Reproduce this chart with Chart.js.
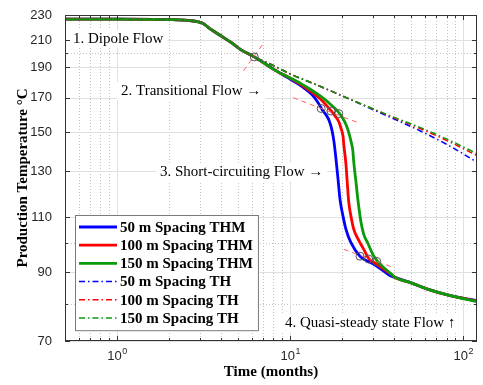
<!DOCTYPE html>
<html>
<head>
<meta charset="utf-8">
<script src="https://cdn.jsdelivr.net/npm/chart.js@4.4.1/dist/chart.umd.min.js"></script>
<style>
  body { margin: 0; background: #fff; }
  canvas { display: block; }
</style>
</head>
<body>
<canvas id="tempChart" width="483" height="385"></canvas>
<script>
// axis ticks
const xTicks = [1, 10, 100];
const xTickExp = ['0', '1', '2'];
const xMinor = [0.6, 0.7, 0.8, 0.9, 2, 3, 4, 5, 6, 7, 8, 9, 20, 30, 40, 50, 60, 70, 80, 90];
const yTicks = [70, 90, 110, 130, 150, 170, 190, 210, 230];
const yMinor = [80, 100, 200];

// THM curves (time in months, temperature in degC)
const thm50Time = [0.5, 1, 2, 2.7, 3.1, 3.5, 4.0, 4.6, 5.2, 6.2, 7.3, 8.5, 9.7, 10.6, 12.0, 13.4, 14.5, 15.3, 16.1, 16.8, 17.4, 17.9, 18.4, 18.9, 19.4, 20.2, 21.0, 22.4, 25.3, 30.4, 34.7, 38.1, 40.6, 49.6, 62.1, 84.2, 120];
const thm50Temp = [226.5, 226.5, 226.2, 225.2, 223.3, 218, 213, 207.7, 202.5, 197.4, 191.8, 186.9, 182.9, 180.3, 176.3, 171.9, 167.0, 162.8, 159.8, 156.4, 151.4, 144.9, 135.7, 126.2, 117.3, 110.3, 105.2, 100.3, 95.4, 92.6, 90.3, 88.7, 88.2, 86.6, 84.6, 82.6, 81.1];

const thm100Time = [0.5, 1, 2, 2.7, 3.1, 3.5, 4.0, 4.6, 5.2, 6.2, 7.3, 8.5, 9.7, 11.6, 13.2, 15.1, 17.2, 18.1, 19.1, 19.6, 20.2, 20.4, 21.0, 21.3, 21.8, 22.4, 23.3, 24.9, 26.6, 28.4, 30.4, 38.1, 40.6, 49.6, 62.1, 84.2, 120];
const thm100Temp = [226.5, 226.5, 226.2, 225.2, 223.3, 218, 213, 207.7, 202.5, 197.4, 191.8, 186.9, 183.5, 178.3, 173.9, 168.8, 162.2, 159.3, 155.8, 152.5, 147.6, 143.3, 133.3, 126.2, 116.1, 110.7, 105.2, 101.1, 97.8, 94.6, 93.3, 89.4, 88.2, 86.6, 84.6, 82.6, 81.0];

const thm150Time = [0.5, 1, 2, 2.7, 3.1, 3.5, 4.0, 4.6, 5.2, 6.2, 7.3, 8.5, 9.7, 11.6, 13.2, 15.1, 17.2, 18.9, 20.2, 21.0, 21.8, 22.4, 23.0, 23.3, 24.0, 24.6, 25.6, 26.6, 28.1, 30.0, 32.0, 38.1, 40.6, 49.6, 62.1, 84.2, 120];
const thm150Temp = [226.5, 226.5, 226.2, 225.2, 223.3, 218, 213, 207.7, 202.5, 197.4, 191.8, 186.9, 183.5, 178.9, 175.1, 170.7, 165.8, 161.6, 157.5, 154.2, 149.7, 145.4, 140.3, 134.3, 124.9, 117.3, 108.3, 103.3, 100.0, 96.0, 93.6, 89.5, 88.2, 86.6, 84.6, 82.6, 80.8];

// TH curves
const thTime = [0.5, 1, 2, 2.7, 3.1, 3.5, 4.0, 4.6, 5.2, 6.2, 7.3, 8.5, 9.7, 15.1, 23.3, 36.6, 56.6, 84.2, 120];
const th50Temp = [226.5, 226.5, 226.2, 225.2, 223.3, 218, 213, 207.7, 202.5, 197.4, 193.5, 189.7, 186.2, 177.0, 168.0, 159.0, 150.6, 142.4, 134.4];
const th100Temp = [226.5, 226.5, 226.2, 225.2, 223.3, 218, 213, 207.7, 202.5, 197.4, 193.5, 189.7, 186.2, 177.0, 168.2, 159.6, 151.9, 144.6, 137.7];
const th150Temp = [226.5, 226.5, 226.2, 225.2, 223.3, 218, 213, 207.7, 202.5, 197.4, 193.5, 189.7, 186.2, 177.0, 168.2, 159.8, 152.5, 145.4, 138.7];

// flow regime markers and tangent lines
const markTime = [6.2, 15.1, 17.2, 19.1, 25.3, 28.4, 31.6];
const markTemp = [197.4, 163.5, 162.0, 160.5, 95.4, 94.4, 93.6];
const tan1Time = [5.37, 7.1], tan1Temp = [187.6, 208.4];
const tan2Time = [10.4, 24.6], tan2Temp = [170.1, 155.3];
const tan3Time = [20.4, 39.1], tan3Temp = [97.8, 91.6];

const notes = [
    { text: '1. Dipole Flow', x: 73, y: 39 },
    { text: '2. Transitional Flow \u2192', x: 121, y: 91 },
    { text: '3. Short-circuiting Flow \u2192', x: 160, y: 172 },
    { text: '4. Quasi-steady state Flow \u2191', x: 285, y: 323 }
];

const BLUE = '#0000ff', RED = '#ff0000', GREEN = '#0a9a0a';

function pts(ts, vs) {
    return ts.map((t, i) => ({ x: t, y: vs[i] }));
}

function curve(label, ts, vs, color, order) {
    return { label: label, data: pts(ts, vs), borderColor: color, borderWidth: 2.8, pointRadius: 0,
        cubicInterpolationMode: 'monotone', order: order, inLegend: true };
}

function dashed(label, ts, vs, color, order) {
    return { label: label, data: pts(ts, vs), borderColor: color, borderWidth: 1.5, pointRadius: 0,
        borderDash: [6, 3, 1.5, 3], cubicInterpolationMode: 'monotone', order: order, inLegend: true };
}

function tangent(ts, vs) {
    return { label: '', data: pts(ts, vs), borderColor: '#ff6262', borderWidth: 1, borderDash: [5, 4],
        pointRadius: 0, order: 0 };
}

const datasets = [
    curve('50 m Spacing THM', thm50Time, thm50Temp, BLUE, 6),
    curve('100 m Spacing THM', thm100Time, thm100Temp, RED, 5),
    curve('150 m Spacing THM', thm150Time, thm150Temp, GREEN, 4),
    dashed('50 m Spacing TH', thTime, th50Temp, BLUE, 3),
    dashed('100 m Spacing TH', thTime, th100Temp, RED, 2),
    dashed('150 m Spacing TH', thTime, th150Temp, GREEN, 1),
    tangent(tan1Time, tan1Temp),
    tangent(tan2Time, tan2Temp),
    tangent(tan3Time, tan3Temp),
    { label: '', data: pts(markTime, markTemp), showLine: false, pointRadius: 4, pointBorderWidth: 1,
        pointBorderColor: '#555', pointBackgroundColor: 'rgba(0,0,0,0)', order: -1 }
];

function seg(ctx, x1, y1, x2, y2) {
    ctx.beginPath();
    ctx.moveTo(x1, y1);
    ctx.lineTo(x2, y2);
    ctx.stroke();
}

const snap = v => Math.round(v) + 0.5;

const frame = {
    id: 'frame',
    beforeDatasetsDraw(chart) {
        const { ctx, chartArea: a, scales: { x, y } } = chart;
        ctx.save();
        ctx.lineWidth = 1;
        ctx.strokeStyle = '#c4c4c4';
        ctx.setLineDash([1, 2]);
        xMinor.forEach(v => { const p = snap(x.getPixelForValue(v)); seg(ctx, p, a.top, p, a.bottom); });
        yMinor.forEach(v => { const p = snap(y.getPixelForValue(v)); seg(ctx, a.left, p, a.right, p); });
        ctx.setLineDash([]);
        ctx.strokeStyle = '#e0e0e0';
        xTicks.forEach(v => { const p = snap(x.getPixelForValue(v)); seg(ctx, p, a.top, p, a.bottom); });
        yTicks.forEach(v => { const p = snap(y.getPixelForValue(v)); seg(ctx, a.left, p, a.right, p); });

        // regime labels with white background
        ctx.font = '15px "Liberation Serif"';
        ctx.textBaseline = 'middle';
        notes.forEach(n => {
            const w = ctx.measureText(n.text).width;
            ctx.fillStyle = '#fff';
            ctx.fillRect(n.x - 4, n.y - 9, w + 8, 18);
            ctx.fillStyle = '#000';
            ctx.fillText(n.text, n.x, n.y);
        });
        ctx.restore();
    },
    afterDatasetsDraw(chart) {
        const { ctx, chartArea: a, scales: { x, y } } = chart;
        ctx.save();
        ctx.strokeStyle = '#333';
        ctx.lineWidth = 1;
        ctx.strokeRect(a.left + 0.5, a.top + 0.5, a.right - a.left - 1, a.bottom - a.top - 1);
        xTicks.forEach(v => { const p = snap(x.getPixelForValue(v)); seg(ctx, p, a.bottom, p, a.bottom - 5); seg(ctx, p, a.top, p, a.top + 5); });
        xMinor.forEach(v => { const p = snap(x.getPixelForValue(v)); seg(ctx, p, a.bottom, p, a.bottom - 3); seg(ctx, p, a.top, p, a.top + 3); });
        yTicks.forEach(v => { const p = snap(y.getPixelForValue(v)); seg(ctx, a.left, p, a.left + 5, p); seg(ctx, a.right, p, a.right - 5, p); });
        yMinor.forEach(v => { const p = snap(y.getPixelForValue(v)); seg(ctx, a.left, p, a.left + 3, p); seg(ctx, a.right, p, a.right - 3, p); });

        // x tick labels as 10 with a raised exponent
        ctx.fillStyle = '#262626';
        ctx.textBaseline = 'alphabetic';
        xTicks.forEach((v, i) => {
            const p = x.getPixelForValue(v);
            ctx.font = '13px "Liberation Sans"';
            const wb = ctx.measureText('10').width;
            ctx.font = '9px "Liberation Sans"';
            const we = ctx.measureText(xTickExp[i]).width;
            const left = p - (wb + we) / 2;
            ctx.font = '13px "Liberation Sans"';
            ctx.fillText('10', left, a.bottom + 18.5);
            ctx.font = '9px "Liberation Sans"';
            ctx.fillText(xTickExp[i], left + wb + 0.5, a.bottom + 12.5);
        });

        // legend
        const items = chart.data.datasets.filter(d => d.inLegend);
        const lx = 75, ly = 215, rowH = 18.2;
        ctx.font = 'bold 15px "Liberation Serif"';
        let maxW = 0;
        items.forEach(d => { maxW = Math.max(maxW, ctx.measureText(d.label).width); });
        ctx.fillStyle = '#fff';
        ctx.fillRect(lx, ly, 45 + maxW + 5, rowH * items.length + 6);
        ctx.strokeStyle = '#7a7a7a';
        ctx.strokeRect(lx + 0.5, ly + 0.5, 45 + maxW + 5, rowH * items.length + 6);
        ctx.textBaseline = 'middle';
        items.forEach((d, i) => {
            const ry = ly + 12 + i * rowH;
            ctx.strokeStyle = d.borderColor;
            ctx.lineWidth = d.borderWidth;
            ctx.setLineDash(d.borderDash || []);
            seg(ctx, lx + 4, ry, lx + 42, ry);
            ctx.setLineDash([]);
            ctx.fillStyle = '#000';
            ctx.fillText(d.label, lx + 45, ry + 1);
        });
        ctx.restore();
    }
};

new Chart(document.getElementById('tempChart'), {
    type: 'line',
    data: { datasets: datasets },
    options: {
        responsive: false,
        animation: false,
        layout: { padding: { top: 15, right: 6, left: 0, bottom: 0 } },
        plugins: { legend: { display: false }, tooltip: { enabled: false } },
        scales: {
            x: {
                type: 'logarithmic', min: 0.5, max: 120,
                afterBuildTicks: s => { s.ticks = xTicks.map(v => ({ value: v })); },
                afterFit: s => { s.height = 44; },
                grid: { display: false }, border: { display: false },
                ticks: { display: false },
                title: {
                    display: true, text: 'Time (months)', color: '#000',
                    font: { family: '"Liberation Serif"', size: 15, weight: 'bold' },
                    padding: { top: 0, bottom: 4 }
                }
            },
            y: {
                type: 'logarithmic', min: 70, max: 230,
                afterBuildTicks: s => { s.ticks = yTicks.map(v => ({ value: v })); },
                afterFit: s => { s.width = 65; },
                grid: { display: false }, border: { display: false },
                ticks: {
                    autoSkip: false, padding: 5, color: '#262626',
                    font: { family: '"Liberation Sans"', size: 13 },
                    callback: v => String(v)
                },
                title: {
                    display: true, text: 'Production Temperature \u00b0C', color: '#000',
                    font: { family: '"Liberation Serif"', size: 15, weight: 'bold' },
                    padding: { top: 14, bottom: 0 }
                }
            }
        }
    },
    plugins: [frame]
});
</script>
</body>
</html>
